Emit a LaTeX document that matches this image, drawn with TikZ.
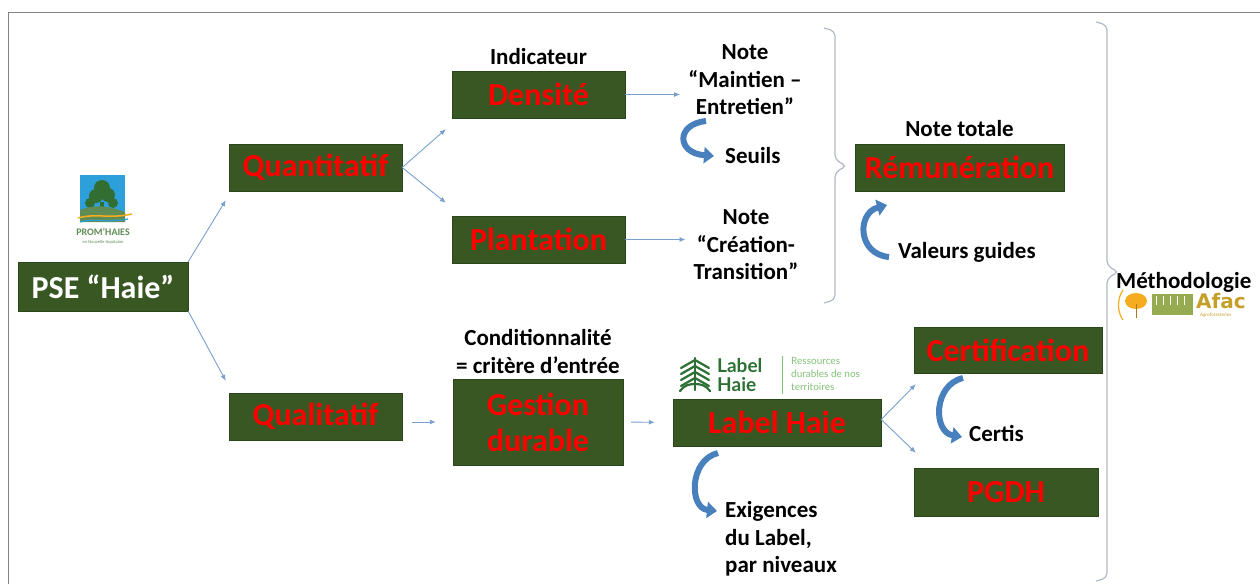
\documentclass[tikz,border=0pt]{standalone}
\usepackage{fontspec}
\setmainfont{Carlito}
\newfontfamily\logoFont{DejaVu Sans}
\newfontfamily\labelFont{Lato}
\usetikzlibrary{positioning,arrows.meta}
\tikzstyle{diagram} = [x = 1pt, y = -1pt]
\definecolor{boxGreen}{RGB}{56,87,35}
\definecolor{boxBorder}{RGB}{44,70,28}
\definecolor{boxRed}{RGB}{255,0,0}
\definecolor{linkBlue}{RGB}{120,160,205}
\definecolor{curlBlue}{RGB}{72,128,190}
\definecolor{braceGray}{RGB}{178,185,198}
\definecolor{frameGray}{RGB}{130,130,130}
\definecolor{labelGreen}{RGB}{45,112,52}
\definecolor{labelLight}{RGB}{130,192,118}
\definecolor{promBlue}{RGB}{45,160,220}
\definecolor{promGreen}{RGB}{95,140,85}
\definecolor{treeGreen}{RGB}{50,110,50}
\definecolor{afacGold}{RGB}{196,160,40}
\definecolor{afacOrange}{RGB}{245,172,30}
\definecolor{afacGreen}{RGB}{150,170,80}
\tikzstyle{boxStyle} = [draw=boxBorder, fill=boxGreen, text=boxRed, inner sep=0pt, align=center, font=\fontsize{32}{36}\selectfont\bfseries]
\tikzstyle{noteText} = [inner sep=0pt, align=center, font=\fontsize{23}{27.5}\selectfont\bfseries]
\tikzstyle{linkArrow} = [draw=linkBlue, line width=0.9pt, -{Latex[length=6pt,width=5pt]}]
\tikzstyle{curlStyle} = [draw=curlBlue, line width=6pt, -{Triangle[length=10pt,width=16pt]}]
\tikzstyle{braceStyle} = [draw=braceGray, line width=1.2pt, rounded corners=5pt]
\tikzstyle{labelWord} = [font=\labelFont\bfseries\fontsize{19}{19}\selectfont, text=labelGreen, inner sep=0pt, anchor=west]
\newcommand{\greenBox}[6][]{\node [boxStyle, minimum width=#4pt, minimum height=#5pt, #1] (#2) at (#3) {#6};}
\newcommand{\curlArrow}[4]{\draw [curlStyle] (#1) .. controls (#2) and (#3) .. (#4);}
\newcommand{\sideBrace}[4]{\draw [braceStyle] (#1 - 11, #2) -- (#1, #2 + 3) -- (#1, #3 - 6) -- (#1 + 12, #3) -- (#1, #3 + 6) -- (#1, #4 - 3) -- (#1 - 11, #4);}
\begin{document}
\begin{tikzpicture}[diagram]
        \useasboundingbox (0,0) rectangle (1260,584);
        \draw [frameGray, line width=1pt] (8,584) -- (8,12) -- (1260,12);

        % boxes
        \greenBox[text=white]{pse}{103,286.5}{170}{49}{PSE “Haie”}
        \greenBox{quanti}{315.5,167.5}{173}{47}{Quantitatif}
        \greenBox{quali}{315.5,416.5}{173}{47}{Qualitatif}
        \greenBox{densite}{538.5,94.5}{173}{47}{Densité}
        \greenBox{plantation}{538.5,239.5}{173}{47}{Plantation}
        \greenBox{gestion}{538,422}{170}{86}{Gestion\\durable}
        \greenBox{labelHaie}{777,422.5}{208}{47}{Label Haie}
        \greenBox{certif}{1008,350}{188}{46}{Certification}
        \greenBox{pgdh}{1006,492}{184}{48}{PGDH}
        \greenBox{remun}{959.5,167.5}{209}{47}{Rémunération}

        % texts
        \node [noteText, above=6pt of densite] (indicateur) {Indicateur};
        \node [noteText, above=7pt of remun] (noteTotale) {Note totale};
        \node [noteText, above=5pt of gestion] (condition) {Conditionnalité\\= critère d’entrée};
        \node [noteText] (noteME) at (745,80) {Note\\“Maintien –\\Entretien”};
        \node [noteText] (noteCT) at (746,245) {Note\\“Création-\\Transition”};
        \node [noteText, anchor=west] (seuils) at (725,156) {Seuils};
        \node [noteText, anchor=west] (valeurs) at (898,252) {Valeurs guides};
        \node [noteText, anchor=west] (certis) at (969,433) {Certis};
        \node [noteText, anchor=west, align=left] (exigences) at (725,539) {Exigences\\du Label,\\par niveaux};
        \node [noteText, anchor=west] (methodo) at (1116,282) {Méthodologie};

        % connectors
        \draw [linkArrow] (pse.north east) -- ([xshift=-3pt, yshift=-9pt]quanti.south west);
        \draw [linkArrow] (pse.south east) -- ([xshift=-3pt, yshift=12pt]quali.north west);
        \draw [linkArrow] (quanti.east) -- ([xshift=-6pt, yshift=-11pt]densite.south west);
        \draw [linkArrow] (quanti.east) -- ([xshift=-6pt, yshift=13pt]plantation.north west);
        \draw [linkArrow, shorten >=8pt] (densite.east) -- (densite.east -| noteME.west);
        \draw [linkArrow, shorten >=8pt] (plantation.east) -- (plantation.east -| noteCT.west);
        \draw [linkArrow, shorten <=10pt, shorten >=17pt] (gestion.west -| quali.east) -- (gestion.west);
        \draw [linkArrow, shorten <=8pt, shorten >=18pt] (gestion.east) -- (labelHaie.west);
        \draw [linkArrow] ([yshift=3pt]labelHaie.east) -- ([xshift=2pt, yshift=-11pt]certif.south west);
        \draw [linkArrow] ([yshift=3pt]labelHaie.east) -- ([xshift=2pt, yshift=15pt]pgdh.north west);

        % curved arrows
        \curlArrow{706,121}{676,124}{676,153}{714,156}
        \curlArrow{889,257}{857,254}{857,213}{887,205}
        \curlArrow{963,378}{933,385}{933,432}{962,437}
        \curlArrow{718,453}{689,460}{689,508}{717,511}

        % braces
        \sideBrace{835}{28}{166}{303}
        \sideBrace{1107}{22}{272}{581}

        % Prom'Haies logo
        \fill [promBlue] (80,175) rectangle (125,213);
        \fill [treeGreen] (100,202) rectangle (104,214);
        \foreach \cx/\cy/\r in {96/196/7, 108/195/7, 102/188/8, 90/203/5, 113/203/5} {
          \fill [treeGreen] (\cx,\cy) circle (\r);
        }
        \fill [promGreen] (80,222) -- (80,210) .. controls (95,204) and (110,206) .. (125,212) -- (125,222) -- cycle;
        \draw [afacOrange, line width=1.5pt] (78,218) .. controls (95,213) and (110,219) .. (132,214);
        \draw [promBlue, line width=1.2pt] (80,222) .. controls (95,218) and (110,223) .. (128,219);
        \node [font=\fontsize{10}{10}\selectfont\bfseries, text=promGreen, inner sep=0pt] (promText) at (103,232) {PROM’HAIES};
        \node [font=\fontsize{4.5}{5}\selectfont, text=promGreen, inner sep=0pt] (promSub) at (103,242) {en Nouvelle-Aquitaine};

        % Label Haie logo
        \draw [labelGreen, line width=2.2pt, line cap=round] (695,358) -- (695,390);
        \foreach \lev in {360,366,372,378} {
          \draw [labelGreen, line width=2.2pt, line cap=round] (681,\lev + 8) -- (695,\lev) -- (709,\lev + 8);
        }
        \draw [labelGreen, line width=2.2pt, line cap=round] (680,391) .. controls (684,385) and (690,384) .. (695,384) .. controls (700,384) and (706,385) .. (710,391);
        \node [labelWord] (labelWordA) at (717,366) {Label};
        \node [labelWord] (labelWordB) at (717,385) {Haie};
        \draw [labelLight, line width=0.8pt] (782,356) -- (782,394);
        \node [font=\labelFont\fontsize{10}{13}\selectfont, text=labelLight, inner sep=0pt, align=left, anchor=west] (labelSub) at (791,374) {Ressources\\durables de nos\\territoires};

        % Afac logo
        \draw [afacOrange, line width=1.2pt] (1123,290) .. controls (1117,298) and (1117,312) .. (1123,320);
        \fill [afacOrange] (1136,301) ellipse (11 and 8);
        \draw [afacOrange!70!black, line width=1pt] (1136,304) -- (1136,318);
        \fill [afacGreen] (1152,294) rectangle (1193,315);
        \foreach \col in {1156,1163,...,1190} {
          \draw [white, line width=0.8pt] (\col,296) -- (\col,305);
        }
        \node [font=\logoFont\bfseries\fontsize{20}{20}\selectfont, text=afacGold, inner sep=0pt, anchor=west] (afac) at (1196,301) {Afac};
        \node [font=\fontsize{5}{5}\selectfont, text=afacGold, inner sep=0pt, anchor=west] (afacSub) at (1200,315) {Agroforesteries};
      \end{tikzpicture}
\end{document}
